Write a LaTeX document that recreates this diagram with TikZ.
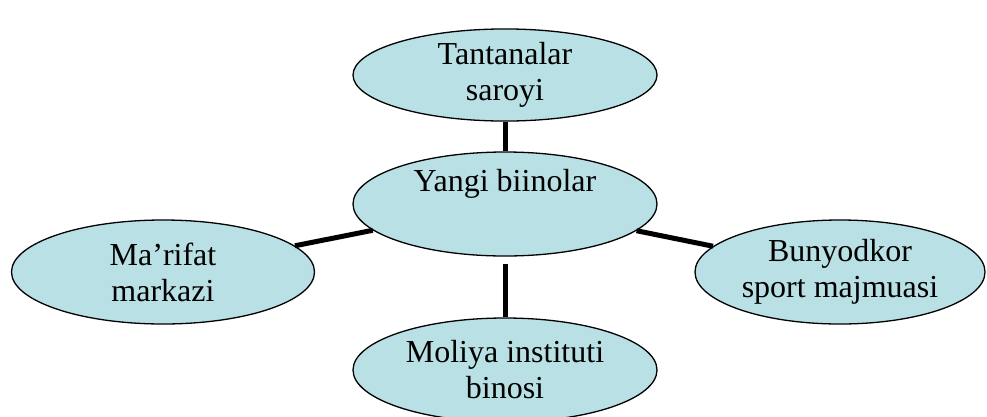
\documentclass[tikz,border=0pt]{standalone}
\usepackage{fontspec}
\setmainfont{Liberation Serif}
\usetikzlibrary{shapes.geometric}
\definecolor{ovalfill}{RGB}{185,224,228}
\begin{document}
\begin{tikzpicture}[x=1pt,y=-1pt,line join=round,
	oval/.style={ellipse,draw,line width=1.3pt,fill=ovalfill,inner sep=0pt,align=center,
		minimum width=304pt,minimum height=104pt,font=\fontsize{32}{36}\selectfont},
	link/.style={line width=5pt}]
	\useasboundingbox (0,0) rectangle (987,416);
	\node[oval,minimum height=86pt] (saroy) at (505,75) {Tantanalar\\saroyi};
	\node[oval] (yangi) at (505,204) {Yangi biinolar\\\strut};
	\node[oval,minimum width=303pt] (marifat) at (163,272) {Ma’rifat\\markazi};
	\node[oval,minimum width=290pt] (bunyod) at (840,272) {Bunyodkor\\sport majmuasi};
	\node[oval] (moliya) at (505,370) {Moliya instituti\\binosi};
	\draw[link] (saroy) -- (yangi);
	\draw[link] (marifat) -- (yangi);
	\draw[link] (bunyod) -- (yangi);
	\draw[link,shorten <=7pt] (yangi) -- (moliya);
\end{tikzpicture}
\end{document}
